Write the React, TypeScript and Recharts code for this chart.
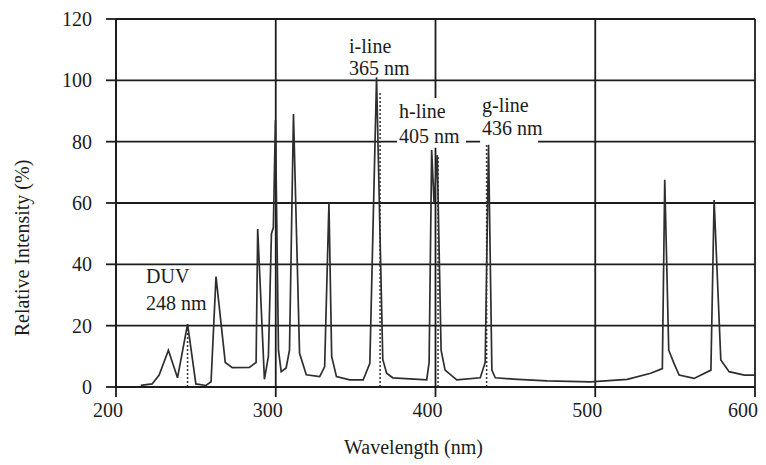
import React from 'react';
import { LineChart, Line, XAxis, YAxis, CartesianGrid, ReferenceLine, ReferenceArea, ReferenceDot } from 'recharts';

// Spectrum (wavelength in nm, relative intensity in %)
const wavelengths = [
  215.5, 222.6, 227, 232.8, 238.5, 244.8, 250.0, 256.3, 259.5, 262.6, 268.4, 272.8, 283.5, 287.7, 288.7,
  292.9, 295.4, 297.3, 298.5, 299.8, 301.7, 303.4, 306.5, 308.6, 311.1, 314.9, 319.1, 327.5, 330.6, 333.3,
  335, 338, 346.3, 354.7, 358.9, 363.1, 367, 369.4, 373.3, 394.5, 396, 397.6, 399.1, 401.1, 403.5, 406,
  413.3, 428, 431.1, 433.2, 435.3, 437.4, 448.7, 469.8, 497, 520, 534.7, 542, 543.5, 546, 549.3, 552.5,
  561.9, 572.4, 574.4, 578.6, 583.8, 593.3, 600,
];
const intensity = [
  0.5, 1, 3.9, 12, 3, 20.5, 1, 0.5, 1.7, 36, 8, 6.3, 6.4, 8, 51.5,
  2.5, 10, 50, 52, 87, 12, 5, 6.2, 12, 89, 11, 4, 3.4, 6.6, 60,
  10, 3.4, 2.3, 2.3, 7.7, 101, 9, 4.5, 3, 2.3, 8, 77.3, 60, 75.6, 12, 5.5,
  2.3, 3, 8, 79, 5.5, 3, 2.6, 2, 1.7, 2.5, 4.5, 6, 67.6, 12, 7.7, 3.9,
  2.8, 5.5, 61, 8.8, 5, 3.9, 3.9,
];

const xTicks = [200, 300, 400, 500, 600];
const yTicks = [0, 20, 40, 60, 80, 100, 120];

// Dotted marker lines under the labelled lines
const markerWl = [244.8, 365.3, 401.6, 432.0];
const markerTop = [20.5, 96, 75, 79];

// Annotations
const annoLine1 = ['DUV', 'i-line', 'h-line', 'g-line'];
const annoLine2 = ['248 nm', '365 nm', '405 nm', '436 nm'];
const annoX = [218.8, 345.9, 377.2, 429.1];
const annoY1 = [33.9, 108.9, 87.7, 89.7];
const annoY2 = [25.1, 101.7, 79.6, 82.2];

// White backgrounds behind the h-line / g-line labels
const maskX1 = [375.9, 427.9];
const maskX2 = [419.1, 464.2];
const maskY1 = [78, 79.6];
const maskY2 = [94.2, 94.5];

const data = wavelengths.map((w, i) => ({ w, v: intensity[i] }));

const FONT = '"Liberation Serif", "DejaVu Serif", serif';
const INK = '#1c1c1c';

const textLabel = (txt: string) => (props: any) => {
  const vb = props.viewBox || {};
  return (
    <text x={vb.x} y={vb.y} fontFamily={FONT} fontSize={20} fill={INK} textAnchor="start">
      {txt}
    </text>
  );
};

const XTitle = (props: any) => {
  const vb = props.viewBox;
  return (
    <text x={vb.x + vb.width / 2 - 22} y={vb.y + vb.height - 3} fontFamily={FONT} fontSize={20} fill={INK} textAnchor="middle">
      Wavelength (nm)
    </text>
  );
};

const YTitle = (props: any) => {
  const vb = props.viewBox;
  const cx = 22;
  const cy = vb.y + vb.height / 2 + 45;
  return (
    <text x={cx} y={cy} transform={`rotate(-90 ${cx} ${cy})`} fontFamily={FONT} fontSize={20} fill={INK} textAnchor="middle" dominantBaseline="central">
      Relative Intensity (%)
    </text>
  );
};

export default function App() {
  return (
    <div style={{ position: 'absolute', left: 0, top: 0, width: 766, height: 465, background: '#fff' }}>
      <LineChart width={766} height={465} data={data} margin={{ top: 19, right: 11, left: 56, bottom: 8 }}>
        <CartesianGrid stroke={INK} strokeWidth={1.8} horizontal={true} vertical={true} />
        <XAxis
          dataKey="w"
          type="number"
          domain={[200, 600]}
          ticks={xTicks}
          height={70}
          tickSize={10}
          tickMargin={6}
          axisLine={{ stroke: INK, strokeWidth: 1.8 }}
          tickLine={{ stroke: INK, strokeWidth: 1.8 }}
          tick={{ fontFamily: FONT, fontSize: 20, fill: INK, dx: -8 }}
          label={<XTitle />}
        />
        <YAxis
          type="number"
          domain={[0, 120]}
          ticks={yTicks}
          width={60}
          tickSize={10}
          tickMargin={14}
          axisLine={{ stroke: INK, strokeWidth: 1.8 }}
          tickLine={{ stroke: INK, strokeWidth: 1.8 }}
          tick={{ fontFamily: FONT, fontSize: 20, fill: INK }}
          label={<YTitle />}
        />
        {maskX1.map((x1, i) => (
          <ReferenceArea key={`m${i}`} x1={x1} x2={maskX2[i]} y1={maskY1[i]} y2={maskY2[i]} fill="#ffffff" fillOpacity={1} stroke="none" />
        ))}
        {markerWl.map((w, i) => (
          <ReferenceLine
            key={`d${i}`}
            segment={[{ x: w, y: 0 }, { x: w, y: markerTop[i] }]}
            stroke="#333"
            strokeWidth={1.5}
            strokeDasharray="2 2"
          />
        ))}
        <Line type="linear" dataKey="v" stroke="#2e2e2e" strokeWidth={1.7} dot={false} activeDot={false} isAnimationActive={false} />
        {annoX.map((x, i) => (
          <ReferenceDot key={`a1${i}`} x={x} y={annoY1[i]} r={0} fill="none" stroke="none" label={textLabel(annoLine1[i])} />
        ))}
        {annoX.map((x, i) => (
          <ReferenceDot key={`a2${i}`} x={x} y={annoY2[i]} r={0} fill="none" stroke="none" label={textLabel(annoLine2[i])} />
        ))}
      </LineChart>
    </div>
  );
}
